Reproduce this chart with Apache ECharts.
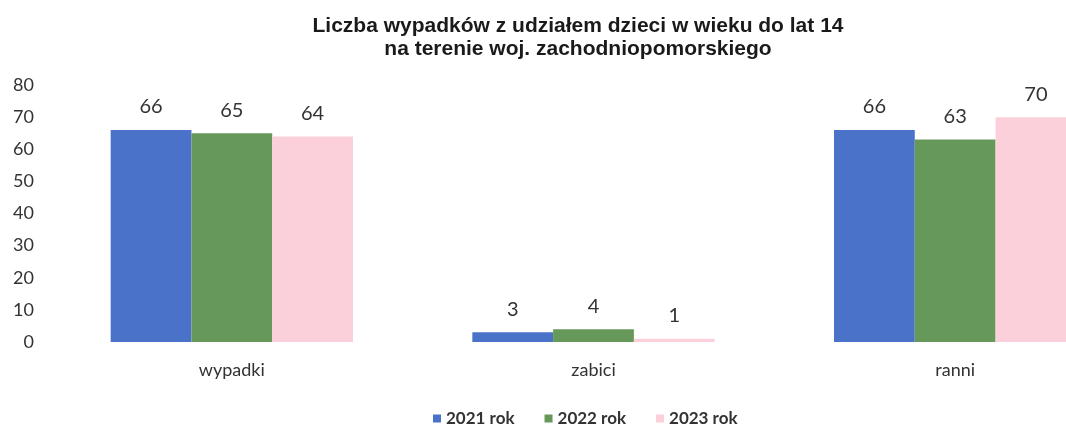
<!DOCTYPE html>
<html>
<head>
<meta charset="utf-8">
<script src="https://cdn.jsdelivr.net/npm/echarts@6/dist/echarts.min.js"></script>
<style>
html, body { margin: 0; padding: 0; background: #fff; }
#chart { width: 1066px; height: 425px; }
</style>
</head>
<body>
<div id="chart"></div>
<script>
const categories = ['wypadki', 'zabici', 'ranni'];
const seriesNames = ['2021 rok', '2022 rok', '2023 rok'];
const values2021 = [66, 3, 66];
const values2022 = [65, 4, 63];
const values2023 = [64, 1, 70];
const colors = ['#4a72c8', '#66985a', '#fcd0db'];

const chart = echarts.init(document.getElementById('chart'));

const makeSeries = (name, data, color) => ({
    type: 'bar',
    name: name,
    data: data,
    barGap: '0%',
    barCategoryGap: '33%',
    itemStyle: { color: color },
    label: {
        show: true,
        position: 'top',
        distance: 13,
        fontFamily: 'Lato',
        fontSize: 20,
        color: '#333'
    }
});

chart.setOption({
    animation: false,
    title: {
        text: 'Liczba wypadków z udziałem dzieci w wieku do lat 14\nna terenie woj. zachodniopomorskiego',
        left: 573,
        textAlign: 'center',
        top: 10,
        textStyle: {
            fontFamily: 'Liberation Sans',
            fontSize: 21,
            fontWeight: 'bold',
            color: '#1a1a1a',
            lineHeight: 23
        }
    },
    legend: {
        data: seriesNames,
        top: 405,
        left: 428,
        itemWidth: 8,
        itemHeight: 8,
        itemGap: 30,
        icon: 'rect',
        textStyle: {
            fontFamily: 'Lato',
            fontSize: 17,
            fontWeight: 'bold',
            color: '#333'
        }
    },
    grid: {
        left: 51,
        width: 1085,
        top: 85,
        bottom: 83,
        containLabel: false,
        outerBoundsMode: 'none'
    },
    xAxis: {
        type: 'category',
        data: categories,
        axisLine: { show: false },
        axisTick: { show: false },
        axisLabel: {
            margin: 19,
            fontFamily: 'Lato',
            fontSize: 18,
            color: '#333'
        }
    },
    yAxis: {
        type: 'value',
        min: 0,
        max: 80,
        interval: 10,
        axisLine: { show: false },
        axisTick: { show: false },
        splitLine: { show: false },
        axisLabel: {
            margin: 17,
            fontFamily: 'Lato',
            fontSize: 18,
            color: '#333'
        }
    },
    series: [
        makeSeries(seriesNames[0], values2021, colors[0]),
        makeSeries(seriesNames[1], values2022, colors[1]),
        makeSeries(seriesNames[2], values2023, colors[2])
    ]
});
</script>
</body>
</html>
